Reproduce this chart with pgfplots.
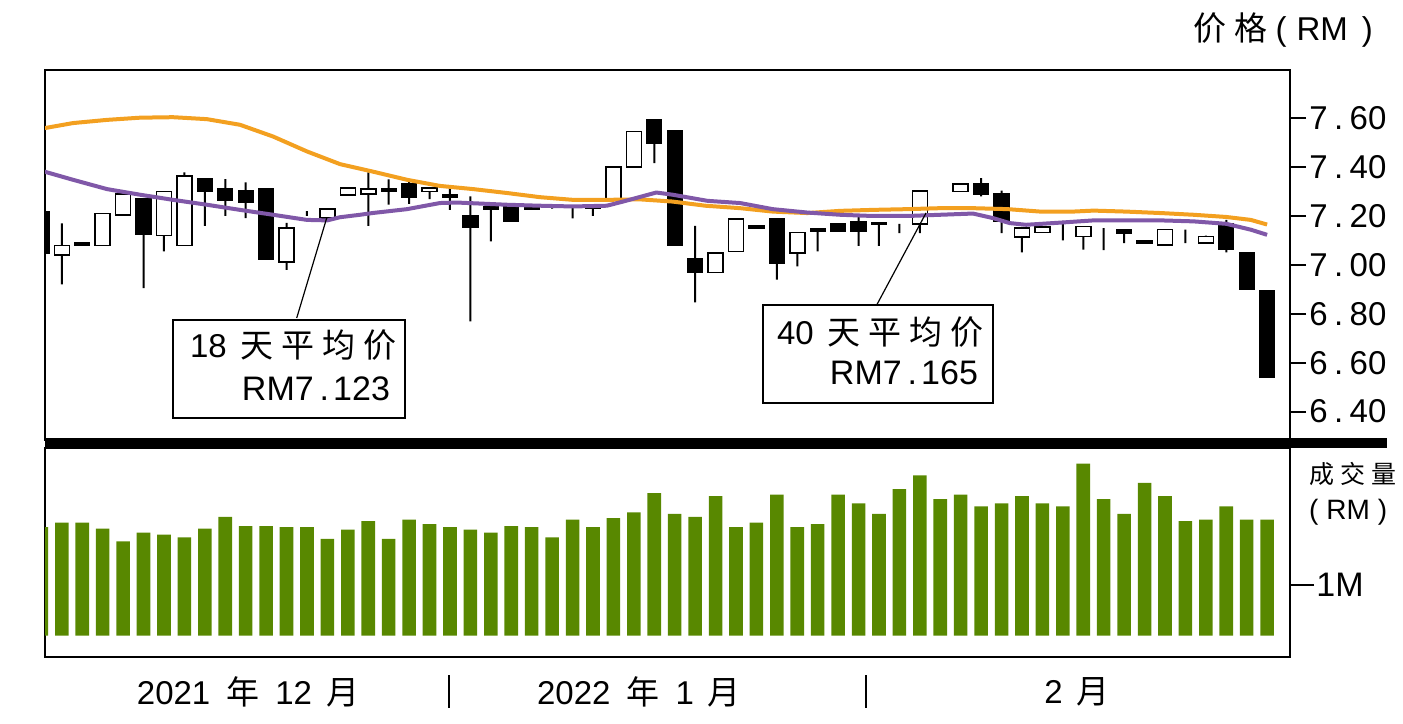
\documentclass[border=0pt]{standalone}
\usepackage{fontspec}
\setmainfont{Liberation Sans}
\newfontfamily\cjk{Noto Sans CJK SC}
\usepackage{pgfplots}
\pgfplotsset{compat=1.18}
\usepackage{pgfplotstable}

\definecolor{maorange}{RGB}{243,160,32}
\definecolor{mapurple}{RGB}{128,88,168}
\definecolor{volgreen}{RGB}{88,136,0}

% daily candles: index, open, high, low, close (RM)
\pgfplotstableread{
i o h l c
0 7.218 7.218 7.048 7.048
1 7.040 7.170 6.920 7.080
2 7.090 7.090 7.080 7.080
3 7.080 7.210 7.080 7.210
4 7.205 7.290 7.205 7.290
5 7.273 7.273 6.905 7.123
6 7.120 7.300 7.055 7.300
7 7.080 7.378 7.080 7.364
8 7.351 7.351 7.160 7.300
9 7.314 7.351 7.200 7.263
10 7.304 7.337 7.191 7.255
11 7.314 7.314 7.021 7.021
12 7.013 7.172 6.980 7.152
13 7.210 7.220 7.200 7.210
14 7.193 7.228 7.193 7.228
15 7.286 7.315 7.286 7.315
16 7.290 7.378 7.160 7.310
17 7.314 7.350 7.246 7.300
18 7.332 7.350 7.250 7.276
19 7.300 7.314 7.269 7.314
20 7.289 7.314 7.225 7.276
21 7.200 7.280 6.769 7.155
22 7.239 7.239 7.096 7.228
23 7.239 7.239 7.178 7.178
24 7.239 7.239 7.228 7.228
25 7.235 7.240 7.230 7.235
26 7.235 7.239 7.190 7.235
27 7.230 7.240 7.200 7.235
28 7.266 7.400 7.266 7.400
29 7.400 7.545 7.400 7.545
30 7.596 7.596 7.416 7.498
31 7.550 7.550 7.078 7.078
32 7.025 7.160 6.847 6.969
33 6.969 7.048 6.969 7.048
34 7.055 7.187 7.055 7.187
35 7.160 7.160 7.148 7.148
36 7.189 7.189 6.940 7.005
37 7.048 7.133 6.994 7.133
38 7.147 7.147 7.055 7.137
39 7.168 7.168 7.137 7.137
40 7.178 7.198 7.078 7.137
41 7.175 7.175 7.078 7.167
42 7.168 7.168 7.130 7.168
43 7.168 7.303 7.130 7.303
44 7.303 7.303 7.303 7.303
45 7.300 7.330 7.300 7.330
46 7.332 7.355 7.280 7.287
47 7.290 7.304 7.130 7.178
48 7.114 7.155 7.051 7.150
49 7.133 7.155 7.133 7.155
50 7.143 7.180 7.100 7.143
51 7.116 7.157 7.062 7.157
52 7.110 7.150 7.060 7.110
53 7.144 7.144 7.089 7.127
54 7.100 7.100 7.086 7.086
55 7.082 7.144 7.082 7.144
56 7.089 7.144 7.089 7.089
57 7.089 7.120 7.089 7.116
58 7.168 7.184 7.051 7.065
59 7.051 7.051 6.900 6.900
60 6.894 6.894 6.542 6.542
}\candles

% daily turnover (million RM)
\pgfplotstableread{
i v
0 2.14
1 2.23
2 2.23
3 2.11
4 1.86
5 2.03
6 1.99
7 1.94
8 2.11
9 2.34
10 2.16
11 2.16
12 2.14
13 2.14
14 1.91
15 2.09
16 2.26
17 1.91
18 2.29
19 2.20
20 2.14
21 2.09
22 2.03
23 2.16
24 2.14
25 1.94
26 2.29
27 2.14
28 2.32
29 2.43
30 2.81
31 2.40
32 2.34
33 2.75
34 2.14
35 2.23
36 2.78
37 2.14
38 2.20
39 2.78
40 2.61
41 2.40
42 2.89
43 3.16
44 2.69
45 2.78
46 2.55
47 2.61
48 2.75
49 2.61
50 2.55
51 3.39
52 2.69
53 2.40
54 3.01
55 2.75
56 2.26
57 2.29
58 2.55
59 2.29
60 2.29
}\volume

% 40-day average
\pgfplotstableread{
x ma
0 7.557
1.55 7.580
3.21 7.593
4.83 7.602
6.44 7.604
8.10 7.596
9.72 7.573
11.34 7.525
13.00 7.464
14.62 7.412
16.20 7.382
17.90 7.348
19.51 7.323
21.13 7.310
22.79 7.294
24.40 7.277
26.02 7.266
27.68 7.266
29.30 7.268
30.90 7.259
32.50 7.242
34.20 7.232
35.80 7.218
37.50 7.212
39.10 7.221
40.70 7.225
42.40 7.228
44.00 7.232
45.60 7.232
47.30 7.228
48.90 7.218
50.50 7.218
51.50 7.222
53.10 7.218
54.80 7.212
56.40 7.205
58.00 7.196
59.20 7.184
60.00 7.165
}\mafourty

% 18-day average
\pgfplotstableread{
x ma
0 7.385
1.55 7.348
3.21 7.310
4.83 7.287
6.44 7.266
8.10 7.246
9.72 7.225
11.34 7.205
13.00 7.184
14.00 7.182
14.62 7.195
15.60 7.205
16.20 7.212
17.90 7.228
19.51 7.253
20.34 7.255
22.79 7.246
24.40 7.242
26.02 7.239
27.68 7.242
28.47 7.259
30.10 7.296
30.90 7.287
32.60 7.262
34.20 7.253
35.80 7.228
37.50 7.214
39.10 7.205
40.70 7.200
42.40 7.200
44.00 7.205
45.60 7.210
46.60 7.191
47.40 7.171
48.20 7.164
49.90 7.173
51.50 7.182
53.10 7.182
54.80 7.182
56.40 7.178
58.00 7.168
59.20 7.144
60.00 7.123
}\maeighteen

\pgfplotsset{
  price/.style={
    scale only axis, width=622.5pt, height=185pt,
    at={(0,108.5pt)}, anchor=south west,
    xmin=0.176, xmax=61.12, ymin=6.284, ymax=7.797,
    enlargelimits=false,
  },
}
\newcommand\tl[2]{#1\kern3.2pt.\kern3.2pt#2}

\begin{document}
\begin{tikzpicture}
\useasboundingbox (-22.5pt,-33pt) rectangle (679pt,328.5pt);

% wicks
\begin{axis}[price, hide axis, ybar stacked, bar width=1pt]
\addplot[draw=none, fill=none] table[x=i, y=l] {\candles};
\addplot[draw=none, fill=black] table[x=i, y expr=\thisrow{h}-\thisrow{l}] {\candles};
\end{axis}

% bodies
\begin{axis}[price, hide axis, ybar stacked, bar width=7.5pt]
\addplot[draw=none, fill=none] table[x=i, y expr={min(\thisrow{o},\thisrow{c})}] {\candles};
\addplot[draw=black, fill=black, line width=0.6pt] table[x=i, y expr={max(\thisrow{o}-\thisrow{c},0)}] {\candles};
\addplot[draw=black, fill=white, line width=0.8pt] table[x=i, y expr={max(\thisrow{c}-\thisrow{o},0)}] {\candles};
\end{axis}

% averages, frame, price ticks
\begin{axis}[price,
  axis line style={line width=1.1pt},
  xtick=\empty,
  ytick={6.4,6.6,6.8,7.0,7.2,7.4,7.6},
  yticklabels={\tl{6}{40},\tl{6}{60},\tl{6}{80},\tl{7}{00},\tl{7}{20},\tl{7}{40},\tl{7}{60}},
  ytick pos=right, yticklabel pos=right,
  tick align=outside, major tick length=8pt,
  every tick/.style={black, line width=1pt},
  yticklabel style={font=\fontsize{16.5}{17}\selectfont, inner sep=1.5pt},
]
\addplot[maorange, line width=2pt, line join=round] table[x=x, y=ma] {\mafourty};
\addplot[mapurple, line width=2pt, line join=round] table[x=x, y=ma] {\maeighteen};
\end{axis}

% turnover
\begin{axis}[scale only axis, width=622.5pt, height=104.5pt,
  at={(0,0)}, anchor=south west,
  xmin=0.176, xmax=61.12, ymin=-0.42, ymax=3.70, enlargelimits=false,
  ybar, bar width=6.8pt,
  axis line style={line width=1.1pt},
  xtick=\empty, ytick={1}, yticklabels={1M},
  ytick pos=right, yticklabel pos=right,
  tick align=outside, major tick length=12pt,
  every tick/.style={black, line width=1pt},
  yticklabel style={font=\fontsize{17}{18}\selectfont, inner sep=1pt},
]
\addplot[fill=volgreen, draw=none] table[x=i, y=v] {\volume};
\end{axis}

% divider between panels
\draw[line width=5pt] (0,106.85pt) -- (671pt,106.85pt);

% titles on the right
\node[anchor=east, font=\fontsize{16.5}{18}\selectfont] at (667.5pt,313.5pt)
  {{\cjk 价\hspace{4pt}格}\hspace{4pt}(\hspace{5pt}RM\hspace{7pt})};
\node[anchor=west, font=\fontsize{12.5}{14}\selectfont\cjk] at (628.5pt,91.5pt)
  {成\hspace{3pt}交\hspace{3pt}量};
\node[anchor=west, font=\fontsize{14}{16}\selectfont] at (628.5pt,72.5pt)
  {(\hspace{4pt}RM\hspace{4pt})};

% month labels
\node[font=\fontsize{16.5}{18}\selectfont] at (101.5pt,-17.5pt)
  {2021\hspace{8pt}{\cjk 年}\hspace{8pt}12\hspace{7pt}{\cjk 月}};
\node[font=\fontsize{16.5}{18}\selectfont] at (297pt,-17.5pt)
  {2022\hspace{8pt}{\cjk 年}\hspace{8pt}1\hspace{7pt}{\cjk 月}};
\node[font=\fontsize{16.5}{18}\selectfont] at (516pt,-17.5pt)
  {2\hspace{7pt}{\cjk 月}};
\draw[line width=0.8pt] (202pt,-9pt) -- (202pt,-25.5pt);
\draw[line width=0.8pt] (410.5pt,-9pt) -- (410.5pt,-25.5pt);

% call-out boxes
\draw[line width=0.6pt] (125.85pt,169.5pt) -- (140.85pt,219.5pt);
\draw[line width=1.2pt, fill=white] (64pt,119.5pt) rectangle (180pt,168.5pt);
\node[anchor=base west, font=\fontsize{16.5}{18}\selectfont] at (69pt,149.5pt)
  {18\hspace{7pt}{\cjk 天\hspace{4pt}平\hspace{4pt}均\hspace{4pt}价}};
\node[anchor=base east, font=\fontsize{17}{18}\selectfont] at (176pt,128pt)
  {RM7\kern3pt.\kern2pt123};

\draw[line width=0.6pt] (415.85pt,176pt) -- (440.5pt,222pt);
\draw[line width=1.2pt, fill=white] (359pt,127pt) rectangle (474pt,176pt);
\node[anchor=base west, font=\fontsize{16.5}{18}\selectfont] at (362.5pt,156pt)
  {40\hspace{7pt}{\cjk 天\hspace{4pt}平\hspace{4pt}均\hspace{4pt}价}};
\node[anchor=base east, font=\fontsize{17}{18}\selectfont] at (470pt,136pt)
  {RM7\kern3pt.\kern2pt165};
\end{tikzpicture}
\end{document}
